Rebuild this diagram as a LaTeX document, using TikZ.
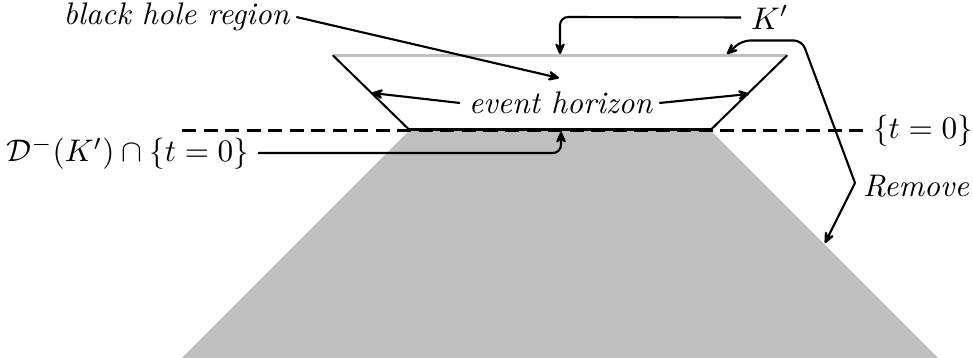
\documentclass[tikz,border=0pt]{standalone}
\usetikzlibrary{arrows.meta}
\definecolor{graytone}{gray}{0.75}
\tikzset{
  lbl/.style={inner sep=0pt,outer sep=0pt,font=\normalsize},
  conn/.style={line width=0.68pt,-{Stealth[length=5pt,width=4.4pt,inset=2.2pt,round]},rounded corners=2.6pt},
  edgeline/.style={line width=0.65pt,line cap=round},
}
\begin{document}
\begin{tikzpicture}[x=0.32pt,y=-0.32pt]
\useasboundingbox (0,0) rectangle (973,358);
% shaded region
\fill[graytone] (409,131) -- (711,131) -- (938,358) -- (182,358) -- cycle;
% coordinates
\coordinate (tl) at (333,55.5);
\coordinate (tr) at (787,55.5);
\coordinate (bl) at (409,129.5);
\coordinate (br) at (711,129.5);
\coordinate (dashL) at (182,130.5);
\coordinate (dashR) at (863,130.5);
\coordinate (bhT) at (559,78);
\coordinate (kT) at (560,54);
\coordinate (dT) at (561,132);
\coordinate (ehL) at (372,93);
\coordinate (ehR) at (749,94);
\coordinate (rmT) at (727,54);
\coordinate (rmB) at (825,243);
\coordinate (rmC) at (855,183);
% lines
\draw[graytone,line width=0.65pt] (tl) -- (tr);
\draw[edgeline] (tl) -- (bl);
\draw[edgeline] (tr) -- (br);
\draw[line width=0.65pt,dash pattern=on 4.5pt off 2.39pt] (dashL) -- (dashR);
\draw[line width=1.25pt] (bl) -- (br);
% labels
\node[lbl,anchor=east] (bh) at (290,17) {\textit{black hole region}};
\node[lbl,anchor=west] (k) at (751,17.5) {$K'$};
\node[lbl] (eh) at (561,103) {\textit{event horizon}};
\node[lbl,anchor=east] (d) at (249,153) {$\mathcal{D}^{-}(K')\cap\{t=0\}$};
\node[lbl,anchor=west] (t) at (873,130.5) {$\{t=0\}$};
\node[lbl,anchor=west] (rm) at (863,186) {\textit{Remove}};
% connectors
\draw[conn] ([xshift=2pt]bh.east) -- (bhT);
\draw[conn] ([xshift=-3.2pt]k.west) -- (560,17) -- (kT);
\draw[conn] ([xshift=-2.9pt]eh.west) -- (ehL);
\draw[conn] ([xshift=2pt]eh.east) -- (ehR);
\draw[conn] ([xshift=2.9pt]d.east) -- (561,153) -- (dT);
\draw[conn] (rmC) -- (802,40.5) -- (742,40.5) -- (rmT);
\draw[conn,rounded corners=0.8pt] (rmC) -- (rmB);
\end{tikzpicture}
\end{document}
